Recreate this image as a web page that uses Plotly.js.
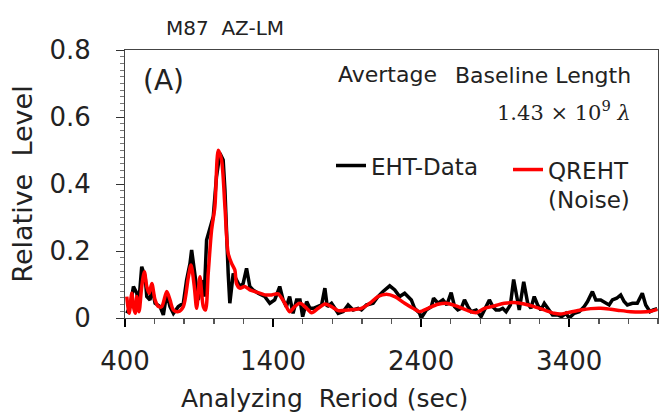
<!DOCTYPE html>
<html>
<head>
<meta charset="utf-8">
<script src="https://cdn.plot.ly/plotly-3.0.1.min.js"></script>
<style>html,body{margin:0;padding:0;background:#fff;}#chart{width:659px;height:414px;}</style>
</head>
<body>
<div id="chart"></div>
<script>
// EHT-Data (black)
const ehtX = [412,435,457,480,491,513,536,547,569,581,603,637,659,682,704,727,760,794,816,839,850,873,895,918,935,951,974,996,1018,1041,1063,1075,1097,1108,1131,1153,1176,1198,1221,1243,1265,1299,1344,1378,1411,1445,1468,1490,1512,1535,1559,1582,1600,1627,1649,1672,1694,1728,1750,1766,1795,1818,1840,1874,1907,1941,1975,1997,2031,2076,2109,2143,2188,2222,2255,2289,2311,2334,2356,2390,2401,2435,2469,2484,2514,2547,2574,2603,2626,2648,2671,2693,2716,2738,2772,2805,2839,2861,2884,2906,2929,2951,2974,3003,3025,3048,3063,3093,3120,3142,3164,3187,3209,3232,3259,3288,3322,3349,3378,3400,3434,3468,3501,3524,3557,3580,3613,3647,3670,3692,3721,3748,3771,3793,3827,3860,3894,3917,3946,3968,3995];
const ehtY = [0.014,0.034,0.094,0.074,0.034,0.153,0.123,0.064,0.054,0.094,0.044,0.034,0.009,0.074,0.034,0.014,0.034,0.044,0.113,0.163,0.203,0.133,0.054,0.113,0.064,0.233,0.273,0.302,0.422,0.492,0.472,0.382,0.133,0.044,0.133,0.113,0.094,0.103,0.148,0.094,0.084,0.074,0.064,0.044,0.054,0.094,0.054,0.034,0.064,0.014,0.054,0.054,0.004,0.049,0.029,0.029,0.034,0.039,0.089,0.034,0.044,0.029,0.014,0.019,0.039,0.024,0.029,0.024,0.039,0.044,0.064,0.079,0.096,0.084,0.064,0.074,0.064,0.054,0.029,0.014,0.0,0.024,0.034,0.059,0.044,0.054,0.039,0.076,0.034,0.024,0.029,0.054,0.034,0.019,0.024,0.004,0.034,0.054,0.034,0.024,0.024,0.029,0.019,0.039,0.115,0.064,0.024,0.108,0.044,0.029,0.064,0.039,0.024,0.044,0.029,0.009,0.009,0.004,0.014,0.0,0.014,0.019,0.034,0.049,0.079,0.054,0.054,0.044,0.039,0.054,0.059,0.069,0.049,0.039,0.044,0.044,0.074,0.039,0.019,0.024,0.028];

// QREHT (Noise) (red)
const qrX = [412,428,446,457,469,480,495,513,531,547,563,581,603,626,648,682,704,727,760,794,828,846,868,884,906,929,944,962,985,1007,1030,1052,1075,1097,1120,1142,1153,1176,1209,1243,1277,1310,1344,1389,1434,1479,1512,1546,1582,1627,1660,1705,1750,1795,1840,1907,1997,2053,2109,2166,2222,2289,2345,2390,2446,2514,2570,2637,2704,2772,2828,2895,2962,3030,3097,3164,3232,3299,3344,3411,3479,3546,3613,3681,3748,3815,3883,3950,3995];
const qrY = [0.064,0.014,0.074,0.034,0.014,0.064,0.019,0.094,0.138,0.094,0.074,0.103,0.054,0.034,0.034,0.079,0.054,0.024,0.019,0.034,0.123,0.158,0.094,0.029,0.123,0.034,0.024,0.133,0.263,0.332,0.501,0.472,0.332,0.193,0.163,0.143,0.103,0.089,0.094,0.084,0.079,0.074,0.069,0.069,0.072,0.044,0.019,0.034,0.044,0.029,0.016,0.029,0.042,0.034,0.022,0.024,0.029,0.044,0.064,0.071,0.064,0.044,0.029,0.019,0.029,0.041,0.044,0.036,0.024,0.016,0.029,0.036,0.044,0.046,0.042,0.034,0.024,0.014,0.012,0.018,0.024,0.028,0.029,0.026,0.022,0.019,0.018,0.020,0.026];

const xTickVals = [400,1400,2400,3400];
const xTickText = ['400','1400','2400','3400'];
const yTickVals = [0,0.2,0.4,0.6,0.8];
const yTickText = ['0','0.2','0.4','0.6','0.8'];

const FONT = 'DejaVu Sans, Noto Sans, sans-serif';
const TXT = '#222';

const traces = [
  {x: ehtX, y: ehtY, type: 'scatter', mode: 'lines', name: 'EHT-Data', legend: 'legend',
   line: {color: '#000000', width: 3.5}},
  {x: qrX, y: qrY, type: 'scatter', mode: 'lines', name: 'QREHT<br>(Noise)', legend: 'legend2',
   line: {color: '#ff0000', width: 3.5, shape: 'spline', smoothing: 0.8}}
];

function ann(text, x, y, size, family, xanchor) {
  return {text: text, xref: 'paper', yref: 'paper', x: x, y: y, showarrow: false,
          xanchor: xanchor || 'center', yanchor: 'middle',
          font: {size: size, family: family || FONT, color: TXT}};
}

const legendFont = {size: 23, family: FONT, color: TXT};

const layout = {
  width: 659, height: 414,
  margin: {l: 125, r: 1, t: 50, b: 96},
  paper_bgcolor: '#fff', plot_bgcolor: '#fff',
  font: {family: FONT, color: TXT},
  showlegend: true,
  legend: {x: 0.3865, y: 0.649, xanchor: 'left', yanchor: 'top',
           font: legendFont, bgcolor: 'rgba(0,0,0,0)', valign: 'top'},
  legend2: {x: 0.7186, y: 0.634, xanchor: 'left', yanchor: 'top',
           font: legendFont, bgcolor: 'rgba(0,0,0,0)', valign: 'top'},
  xaxis: {range: [400, 4000], tickvals: xTickVals, ticktext: xTickText,
          ticks: 'outside', ticklen: 8, tickcolor: '#000', tickwidth: 1.5,
          ticklabelstandoff: 12,
          minor: {dtick: 200, tick0: 400, ticks: 'outside', ticklen: 5, tickcolor: '#555'},
          showgrid: false, zeroline: false, showline: true, linecolor: '#444', linewidth: 1, mirror: true,
          tickfont: {size: 26, family: FONT, color: TXT}},
  yaxis: {range: [0, 0.8], tickvals: yTickVals, ticktext: yTickText,
          ticks: 'outside', ticklen: 8, tickcolor: '#333', tickwidth: 1,
          ticklabelstandoff: 20,
          minor: {dtick: 0.02, tick0: 0, ticks: 'outside', ticklen: 4, tickcolor: '#777'},
          showgrid: false, zeroline: false, showline: true, linecolor: '#444', linewidth: 1, mirror: true,
          tickfont: {size: 26, family: FONT, color: TXT},
          title: {text: 'Relative&nbsp;&nbsp;Level', font: {size: 27, family: FONT, color: TXT}, standoff: 8}},
  annotations: [
    ann('M87&nbsp;&nbsp;AZ-LM', 0.074, 1.082, 20, FONT, 'left'),
    ann('Analyzing&nbsp;&nbsp;Reriod (sec)', 0.375, -0.3, 25),
    ann('(A)', 0.073, 0.888, 28),
    ann('Avertage', 0.4916, 0.907, 22),
    ann('Baseline Length', 0.785, 0.903, 22),
    ann('1.43 × 10<sup>9</sup> <i>λ</i>', 0.824, 0.773, 21, 'DejaVu Serif, Liberation Serif, serif')
  ]
};

Plotly.newPlot('chart', traces, layout, {displayModeBar: false, staticPlot: true});
</script>
</body>
</html>
